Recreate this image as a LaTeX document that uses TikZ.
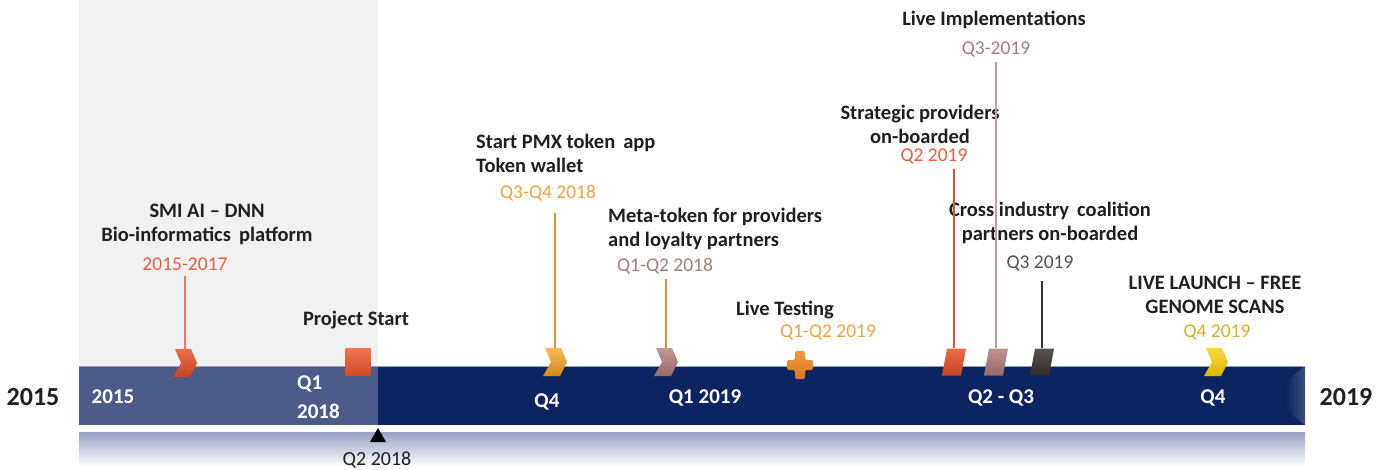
\documentclass[tikz,border=0pt]{standalone}
\usepackage{fontspec}
\setmainfont{Carlito}
\usetikzlibrary{calc}
\definecolor{txt}{HTML}{1F1F1F}
\definecolor{panel}{HTML}{F1F1F1}
\definecolor{barL}{HTML}{4B5C8B}
\definecolor{barR}{HTML}{0C2461}
\definecolor{refl}{HTML}{97A2C4}
\definecolor{cRed}{HTML}{EA5129}
\definecolor{cOr}{HTML}{F6A21C}
\definecolor{cMauve}{HTML}{B27C7A}
\definecolor{cPlus}{HTML}{F2861E}
\definecolor{cDark}{HTML}{3B3330}
\definecolor{cYel}{HTML}{F9C900}
\definecolor{dRed}{HTML}{E8603C}
\definecolor{dOr}{HTML}{F0A240}
\definecolor{dMauve}{HTML}{A57D7B}
\definecolor{dGray}{HTML}{555050}
\definecolor{dGold}{HTML}{D6B026}
\definecolor{lRed}{HTML}{EC7A60}
\definecolor{lOr}{HTML}{D8942E}
\definecolor{lRed2}{HTML}{E0503A}
\definecolor{lMauve}{HTML}{C49C9A}
\begin{document}
\begin{tikzpicture}[x=1pt,y=-1pt,
  lbl/.style={font=\bfseries\fontsize{20.5}{24}\selectfont,text=txt,align=center,inner sep=0pt},
  lbll/.style={lbl,align=left,anchor=west},
  dt/.style={font=\fontsize{19.5}{23}\selectfont,inner sep=0pt},
  bartxt/.style={font=\bfseries\fontsize{21}{28}\selectfont,text=white,inner sep=0pt},
  bigyr/.style={font=\bfseries\fontsize{26}{30}\selectfont,text=txt,inner sep=0pt},
  mk/.style={minimum width=25pt,minimum height=27pt,inner sep=0pt},
  chev/.pic={\path[pic actions] (-10,-14) -- (6,-14) -- (12,0) -- (5,14) -- (-12,14) -- (-4,0) -- cycle;},
  para/.pic={\path[pic actions] (-7,-13.5) -- (12,-13.5) -- (7,13.5) -- (-12,13.5) -- cycle;},
  sq/.pic={\path[pic actions] (-12.5,-13.5) rectangle (12.5,13.5);},
  plus/.pic={\path[pic actions,rounded corners=2pt] (-5,-14) -- (5,-14) -- (5,-5) -- (13,-5) -- (13,5) -- (5,5) -- (5,14) -- (-5,14) -- (-5,5) -- (-13,5) -- (-13,-5) -- (-5,-5) -- cycle;},
  conn/.style={line width=1.4pt,shorten <=5pt}
]
\useasboundingbox (0,0) rectangle (1389,470);
% background panel
\fill[panel] (79,0) rectangle (378,366);
% reflection
\shade[top color=refl, bottom color=white] (79,432) rectangle (1305,466);
% bar
\fill[barL] (79,366) rectangle (378,425);
\fill[barR] (378,366) rectangle (1305,425);
\shade[left color=barR, right color=barR!80!white] (1286,381) -- (1305,366) -- (1305,425) -- (1286,410) -- cycle;
\draw[barL!60!white,line width=0.8pt] (79,366) -- (1305,366);
% triangle
\fill[black] (378,428) -- (386,442) -- (370,442) -- cycle;
\node[font=\fontsize{20}{24}\selectfont,text=txt,inner sep=0pt] (q2) at (377,460) {Q2 2018};

% big years
\node[bigyr] (y15) at (33,397) {2015};
\node[bigyr] (y19) at (1346,397) {2019};
% bar labels
\node[bartxt] (b1) at (113,397) {2015};
\node[bartxt,anchor=west] (b2) at (297,384) {Q1};
\node[bartxt,anchor=west] (b3) at (297,411) {2018};
\node[bartxt] (b4) at (547,402) {Q4};
\node[bartxt] (b5) at (705,398) {Q1 2019};
\node[bartxt] (b6) at (1001,398) {Q2 - Q3};
\node[bartxt] (b7) at (1213,398) {Q4};

% markers
\node[mk] (m1) at (185,363) {};
\node[mk] (m2) at (358,362) {};
\node[mk] (m3) at (555,362) {};
\node[mk] (m4) at (666,362) {};
\node[mk] (m5) at (800,365) {};
\node[mk] (m6) at (954,362) {};
\node[mk] (m7) at (996,362) {};
\node[mk] (m8) at (1042,362) {};
\node[mk] (m9) at (1216,362) {};

% labels
\node[lbl] (t1) at (207,224.5) {SMI AI – DNN\\Bio-informatics\, platform};
\node[dt,text=dRed] (d1) at (185,264) {2015-2017};
\node[lbl] (t2) at (356,320) {Project Start};
\node[lbll] (t3) at (476,153) {Start PMX token\, app\\Token wallet};
\node[dt,text=dOr] (d3) at (548,193) {Q3-Q4 2018};
\node[lbll] (t4) at (608,229) {Meta-token for providers\\and loyalty partners};
\node[dt,text=dMauve] (d4) at (665,266) {Q1-Q2 2018};
\node[lbl] (t5) at (785,310) {Live Testing};
\node[dt,text=dOr] (d5) at (828,332) {Q1-Q2 2019};
\node[lbl] (t6) at (920,124) {Strategic providers\\on-boarded};
\node[dt,text=dRed] (d6) at (934,156) {Q2 2019};
\node[lbl] (t7) at (994,20) {Live Implementations};
\node[dt,text=dMauve] (d7) at (996,49) {Q3-2019};
\node[lbl] (t8) at (1050,223) {Cross industry\, coalition\\partners on-boarded};
\node[dt,text=dGray] (d8) at (1040,263) {Q3 2019};
\node[lbl] (t9) at (1215,294.5) {LIVE LAUNCH – FREE\\GENOME SCANS};
\node[dt,text=dGold] (d9) at (1217,332) {Q4 2019};

% connectors
\draw[conn,lRed,line width=1.2pt] (m1.north |- d1.south) -- (m1.north);
\draw[conn,lOr,shorten <=12pt] (m3.north |- d3.south) -- (m3.north);
\draw[conn,lOr] (m4.north |- d4.south) -- (m4.north);
\draw[conn,lRed2,line width=1.8pt] (m6.north |- d6.south) -- (m6.north);
\draw[conn,lMauve,line width=1.8pt] (m7.north |- d7.south) -- (m7.north);
\draw[conn,cDark,shorten <=10pt] (m8.north |- d8.south) -- (m8.north);

% marker shapes
\pic[top color=cRed!85!white, bottom color=cRed!85!black] at (m1) {chev};
\pic[top color=cRed!80!white, bottom color=cRed!90!black] at (m2) {sq};
\pic[top color=cOr!75!white, bottom color=cOr!85!black] at (m3) {chev};
\pic[top color=cMauve!80!white, bottom color=cMauve!85!black] at (m4) {chev};
\pic[top color=cPlus!85!white, bottom color=cPlus!90!black] at (m5) {plus};
\pic[top color=cRed!85!white, bottom color=cRed!85!black] at (m6) {para};
\pic[top color=cMauve!85!white, bottom color=cMauve!85!black] at (m7) {para};
\pic[top color=cDark!85!white, bottom color=cDark!85!black] at (m8) {para};
\pic[top color=cYel!75!white, bottom color=cYel!90!black] at (m9) {chev};
\end{tikzpicture}
\end{document}
